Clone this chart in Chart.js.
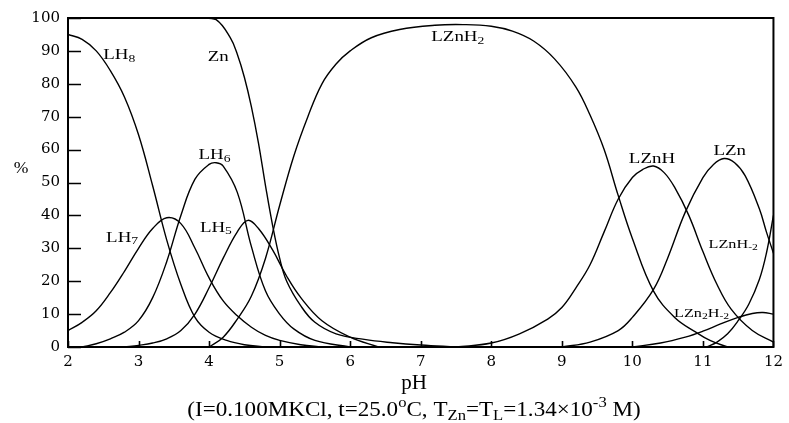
<!DOCTYPE html>
<html lang="en">
<head>
    <meta charset="UTF-8">
    <title>Zn species distribution vs pH</title>
    <script src="https://cdn.jsdelivr.net/npm/chart.js"></script>
    <style>
        body { margin: 0; background: #fff; }
        canvas { display: block; }
    </style>
</head>
<body>
    <canvas id="speciesChart" width="789" height="423"></canvas>

    <script>
        // species curves (pH, %)
        const lh8_pH  = [2, 2.2, 2.4, 2.6, 2.8, 3.0, 3.2, 3.4, 3.6, 3.8, 4.0, 4.25, 4.5, 4.8];
        const lh8_pct = [95, 93.5, 90, 84, 76, 64.5, 49, 32.5, 19, 9, 4.5, 2, 0.7, 0];

        const lh7_pH  = [2, 2.2, 2.4, 2.6, 2.8, 3.0, 3.2, 3.4, 3.6, 3.8, 4.0, 4.2, 4.4, 4.6, 4.8, 5.0, 5.3, 5.6];
        const lh7_pct = [5, 7.5, 11, 16.5, 23, 30, 36, 39.3, 37.5, 30, 21, 14, 9.5, 6, 3.5, 2, 0.7, 0];

        const lh6_pH  = [2.2, 2.4, 2.6, 2.8, 3.0, 3.2, 3.4, 3.6, 3.8, 4.0, 4.1, 4.2, 4.4, 4.6, 4.8, 5.0, 5.2, 5.5, 6.0];
        const lh6_pct = [0, 1, 2.5, 4.5, 8, 15, 26, 40, 51, 55.5, 56, 55, 47, 30.5, 17, 10, 5.5, 2, 0];

        const lh5_pH  = [2.8, 3.0, 3.2, 3.4, 3.6, 3.8, 4.0, 4.2, 4.4, 4.55, 4.7, 4.9, 5.1, 5.3, 5.6, 6.0, 6.4];
        const lh5_pct = [0, 0.5, 1.2, 2.5, 5, 10, 18, 27, 35, 38.5, 36, 29.5, 21.5, 15, 8, 3, 0];

        const zn_pH  = [2, 3.6, 3.9, 4.1, 4.3, 4.4, 4.5, 4.6, 4.7, 4.8, 4.9, 5.0, 5.1, 5.3, 5.5, 5.8, 6.2, 6.6, 7.0, 7.5];
        const zn_pct = [100, 100, 100, 99.5, 94, 89, 82, 73, 62, 49, 37, 27, 20, 12.5, 7.5, 4, 2.3, 1.3, 0.6, 0];

        const lznh2_pH  = [4.0, 4.2, 4.4, 4.6, 4.8, 5.0, 5.2, 5.4, 5.6, 5.8, 6.0, 6.3, 6.7, 7.2, 7.6, 8.0, 8.3, 8.6, 8.9, 9.2, 9.4, 9.6, 9.8, 10.0, 10.3, 10.6, 10.9, 11.1, 11.35];
        const lznh2_pct = [0, 3, 8.5, 15.5, 27, 43, 58, 70, 80, 86, 90, 94, 96.5, 97.8, 98, 97.5, 96, 93, 87.5, 79, 70.5, 60, 46, 33, 17, 9, 4.5, 2, 0];

        const lznh_pH  = [7.5, 8.0, 8.4, 8.8, 9.0, 9.2, 9.4, 9.6, 9.8, 10.0, 10.15, 10.3, 10.45, 10.6, 10.8, 11.0, 11.2, 11.4, 11.7, 12.0];
        const lznh_pct = [0, 1.2, 4, 8.5, 12, 18, 25, 35, 45, 51.5, 54, 55, 53, 48.5, 40, 29, 19, 11.5, 5, 1.5];

        const lzn_pH  = [9.0, 9.4, 9.8, 10.0, 10.3, 10.5, 10.75, 11.0, 11.15, 11.3, 11.45, 11.6, 11.8, 11.9, 12.0];
        const lzn_pct = [0, 1.5, 5, 9, 17.5, 27, 41, 51.5, 55.5, 57.3, 56, 52, 42, 35, 28.5];

        const lznhm2_pH  = [11.05, 11.2, 11.35, 11.5, 11.65, 11.8, 11.9, 12.0];
        const lznhm2_pct = [0, 1.5, 4, 8, 13, 20.5, 28.5, 40];

        const lzn2hm2_pH  = [10.0, 10.4, 10.75, 11.0, 11.25, 11.5, 11.7, 11.85, 12.0];
        const lzn2hm2_pct = [0, 1.2, 3, 4.8, 7, 9, 10.2, 10.5, 10];

        const xTicks = [2, 3, 4, 5, 6, 7, 8, 9, 10, 11, 12];
        const yTicks = [0, 10, 20, 30, 40, 50, 60, 70, 80, 90, 100];

        // in-plot labels: [segments, pH, %] -- segments are [text, 'n'|'sub']
        const curveLabels = [
            [[['LH', 'n'], ['8', 'sub']], 2.5, 87.5],
            [[['Zn', 'n']], 3.98, 87],
            [[['LH', 'n'], ['6', 'sub']], 3.85, 57],
            [[['LH', 'n'], ['7', 'sub']], 2.54, 32],
            [[['LH', 'n'], ['5', 'sub']], 3.87, 35],
            [[['LZnH', 'n'], ['2', 'sub']], 7.15, 93],
            [[['LZnH', 'n']], 9.95, 56],
            [[['LZn', 'n']], 11.15, 58.3]
        ];
        const smallLabels = [
            [[['LZnH', 'n'], ['-2', 'sub']], 11.08, 30.1],
            [[['LZn', 'n'], ['2', 'sub'], ['H', 'n'], ['-2', 'sub']], 10.59, 9.1]
        ];

        const serif = '"Liberation Serif", "Times New Roman", serif';

        function makeSeries(label, xs, ys) {
            return {
                label: label,
                data: xs.map((x, i) => ({ x: x, y: ys[i] })),
                borderColor: '#000',
                borderWidth: 1.4,
                pointRadius: 0,
                fill: false,
                tension: 0.4
            };
        }

        // draws text with subscripts/superscripts, horizontally stretched by sx
        function drawRich(ctx, x, y, segs, size, sx, align) {
            ctx.save();
            ctx.textBaseline = 'alphabetic';
            ctx.textAlign = 'left';
            let w = 0;
            segs.forEach(s => {
                const fs = s[1] === 'n' ? size : size * 0.72;
                ctx.font = fs + 'px ' + serif;
                w += ctx.measureText(s[0]).width;
            });
            ctx.translate(x, y);
            ctx.scale(sx, 1);
            let cx = align === 'center' ? -w / 2 : 0;
            segs.forEach(s => {
                const fs = s[1] === 'n' ? size : size * 0.72;
                ctx.font = fs + 'px ' + serif;
                let dy = 0;
                if (s[1] === 'sub') dy = size * 0.18;
                if (s[1] === 'sup') dy = -size * 0.42;
                ctx.fillText(s[0], cx, dy);
                cx += ctx.measureText(s[0]).width;
            });
            ctx.restore();
        }

        const frame = {
            id: 'frame',
            afterDraw(chart) {
                const ctx = chart.ctx;
                const a = chart.chartArea;
                const xs = chart.scales.x, ys = chart.scales.y;
                ctx.save();
                ctx.strokeStyle = '#000';
                ctx.fillStyle = '#000';

                // box
                ctx.lineWidth = 2;
                ctx.strokeRect(a.left, a.top, a.right - a.left, a.bottom - a.top);

                // inward ticks
                ctx.lineWidth = 1.6;
                ctx.beginPath();
                yTicks.forEach(v => {
                    const py = Math.round(ys.getPixelForValue(v)) + 0.5;
                    ctx.moveTo(a.left, py);
                    ctx.lineTo(a.left + 13, py);
                });
                xTicks.forEach(v => {
                    const px = Math.round(xs.getPixelForValue(v)) + 0.5;
                    ctx.moveTo(px, a.bottom);
                    ctx.lineTo(px, a.bottom - 6);
                });
                ctx.stroke();

                // curve labels
                curveLabels.forEach(l => {
                    drawRich(ctx, xs.getPixelForValue(l[1]), ys.getPixelForValue(l[2]), l[0], 14, 1.35, 'left');
                });
                smallLabels.forEach(l => {
                    drawRich(ctx, xs.getPixelForValue(l[1]), ys.getPixelForValue(l[2]), l[0], 12, 1.35, 'left');
                });

                // axis titles and note
                drawRich(ctx, 21, 173, [['%', 'n']], 16, 1.1, 'center');
                drawRich(ctx, 414, 389, [['pH', 'n']], 20, 1.05, 'center');
                drawRich(ctx, 414, 416, [
                    ['(I=0.100MKCl, t=25.0', 'n'], ['o', 'sup'], ['C, T', 'n'], ['Zn', 'sub'],
                    ['=T', 'n'], ['L', 'sub'], ['=1.34\u00d710', 'n'], ['-3', 'sup'], [' M)', 'n']
                ], 21, 1.1, 'center');
                ctx.restore();
            }
        };

        const ctx = document.getElementById('speciesChart').getContext('2d');
        const myChart = new Chart(ctx, {
            type: 'line',
            data: {
                datasets: [
                    makeSeries('LH8', lh8_pH, lh8_pct),
                    makeSeries('LH7', lh7_pH, lh7_pct),
                    makeSeries('LH6', lh6_pH, lh6_pct),
                    makeSeries('LH5', lh5_pH, lh5_pct),
                    makeSeries('Zn', zn_pH, zn_pct),
                    makeSeries('LZnH2', lznh2_pH, lznh2_pct),
                    makeSeries('LZnH', lznh_pH, lznh_pct),
                    makeSeries('LZn', lzn_pH, lzn_pct),
                    makeSeries('LZnH-2', lznhm2_pH, lznhm2_pct),
                    makeSeries('LZn2H-2', lzn2hm2_pH, lzn2hm2_pct)
                ]
            },
            options: {
                responsive: false,
                animation: false,
                devicePixelRatio: 1,
                layout: { padding: { top: 18, right: 14, left: 0, bottom: 0 } },
                plugins: {
                    legend: { display: false },
                    tooltip: { enabled: false }
                },
                scales: {
                    x: {
                        type: 'linear',
                        min: 2,
                        max: 12,
                        afterFit: s => { s.height = 76; },
                        grid: { display: false, drawTicks: false },
                        border: { display: false },
                        ticks: {
                            stepSize: 1,
                            padding: 6,
                            color: '#000',
                            font: { family: '"DejaVu Serif", serif', size: 15 }
                        }
                    },
                    y: {
                        min: 0,
                        max: 100,
                        afterFit: s => { s.width = 68; },
                        grid: { display: false, drawTicks: false },
                        border: { display: false },
                        ticks: {
                            stepSize: 10,
                            padding: 8,
                            color: '#000',
                            font: { family: '"DejaVu Serif", serif', size: 15 }
                        }
                    }
                }
            },
            plugins: [frame]
        });
    </script>
</body>
</html>
